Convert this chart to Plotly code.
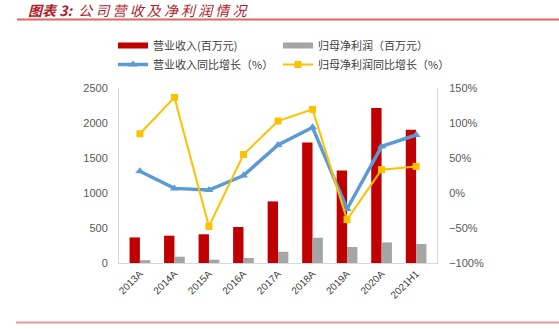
import plotly.graph_objects as go

# Company revenue and net profit, 2013A-2021H1
periods = ["2013A", "2014A", "2015A", "2016A", "2017A", "2018A", "2019A", "2020A", "2021H1"]
revenue = [365, 390, 410, 514, 880, 1723, 1323, 2214, 1904]          # 百万元
net_profit = [40, 90, 47, 71, 161, 361, 229, 294, 271]               # 百万元
revenue_yoy = [31, 6.6, 4.3, 25, 68.6, 93.8, -22.9, 66.6, 82.9]      # %
profit_yoy = [84.7, 136.6, -47.7, 55, 102.8, 119.5, -38, 33.3, 38]   # %

W, H = 559, 329
L, R, T, B = 119, 437, 88, 263  # plot-area edges in px


def px_x(px):
    return (px - L) / (R - L)


def px_y(py):
    return (B - py) / (B - T)


font_cn = "Noto Sans CJK SC, Microsoft YaHei, sans-serif"
tick_font = dict(family="Liberation Sans, Arial, sans-serif", size=11, color="#595959")

RED, GREY, BLUE, GOLD = "#c00000", "#a5a5a5", "#5b9bd5", "#ffc000"

fig = go.Figure()
fig.add_trace(go.Bar(x=periods, y=revenue, name="营业收入(百万元)", legendgroup="rev",
                     showlegend=False, marker=dict(color=RED, line=dict(width=0))))
fig.add_trace(go.Bar(x=periods, y=net_profit, name="归母净利润（百万元）", legendgroup="np",
                     showlegend=False, marker=dict(color=GREY, line=dict(width=0))))
# legend keys drawn as flat bars for the two column series
fig.add_trace(go.Scatter(x=[None], y=[None], name="营业收入(百万元)", legendgroup="rev",
                         mode="lines", line=dict(color=RED, width=6)))
fig.add_trace(go.Scatter(x=[None], y=[None], name="归母净利润（百万元）", legendgroup="np",
                         mode="lines", line=dict(color=GREY, width=6)))
fig.add_trace(go.Scatter(x=periods, y=revenue_yoy, name="营业收入同比增长（%）", yaxis="y2",
                         mode="lines+markers",
                         line=dict(color=BLUE, width=3.5),
                         marker=dict(symbol="triangle-up", size=8, color=BLUE)))
fig.add_trace(go.Scatter(x=periods, y=profit_yoy, name="归母净利润同比增长（%）", yaxis="y2",
                         mode="lines+markers",
                         line=dict(color=GOLD, width=2),
                         marker=dict(symbol="square", size=7, color=GOLD)))

fig.update_layout(
    width=W, height=H,
    margin=dict(l=L, r=W - R, t=T, b=H - B, pad=0),
    paper_bgcolor="white", plot_bgcolor="white",
    barmode="group", bargap=0.4, bargroupgap=0,
    showlegend=True,
    legend=dict(orientation="h", x=px_x(113), xanchor="left", y=px_y(31), yanchor="top",
                entrywidth=120, entrywidthmode="pixels", traceorder="normal",
                font=dict(family=font_cn, size=11, color="#404040"),
                bgcolor="rgba(0,0,0,0)", itemwidth=30),
    xaxis=dict(showline=True, linecolor="#d9d9d9", linewidth=1, ticks="",
               tickangle=-45, tickfont=dict(family="Liberation Sans, Arial, sans-serif",
                                            size=10, color="#404040"),
               showgrid=False),
    yaxis=dict(range=[0, 2500], dtick=500, showgrid=False, zeroline=False,
               showline=True, linecolor="#d9d9d9", linewidth=1, ticks="",
               tickfont=tick_font, ticklabelstandoff=8),
    yaxis2=dict(range=[-100, 150], dtick=50, overlaying="y", side="right",
                showgrid=False, zeroline=False, showline=True, linecolor="#d9d9d9",
                linewidth=1, ticks="", ticksuffix="%", tickfont=tick_font,
                ticklabelstandoff=9),
    shapes=[
        dict(type="line", xref="paper", yref="paper", x0=px_x(17), x1=px_x(559),
             y0=px_y(19.5), y1=px_y(19.5), line=dict(color="#e06666", width=2)),
        dict(type="line", xref="paper", yref="paper", x0=px_x(16), x1=px_x(559),
             y0=px_y(322.5), y1=px_y(322.5), line=dict(color="#e39a9a", width=2)),
    ],
    annotations=[
        dict(text="<b><i>图表 3:</i></b>  <i>公 司 营 收 及 净 利 润 情 况</i>",
             xref="paper", yref="paper", x=px_x(27), y=px_y(10), xanchor="left",
             yanchor="middle", borderpad=0,
             showarrow=False, font=dict(family=font_cn, size=14, color="#b01c2a")),
    ],
)

fig.write_html("out.html")
